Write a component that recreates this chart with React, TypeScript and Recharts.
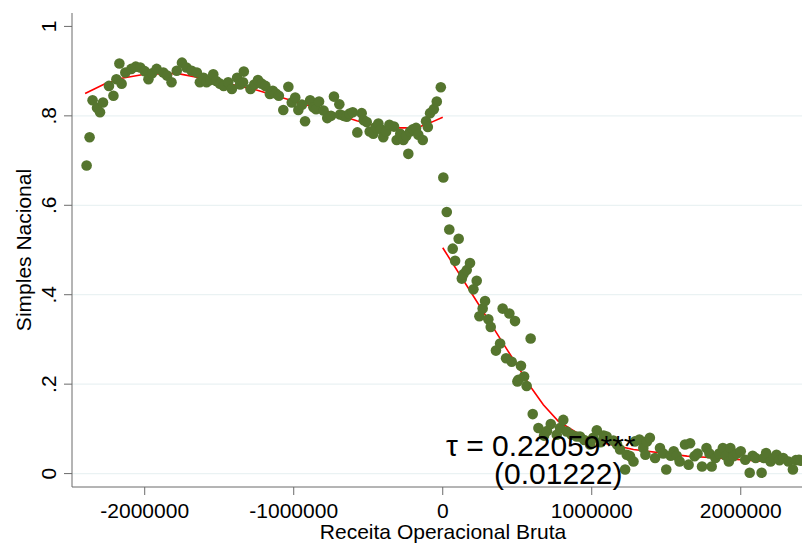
import { ReferenceLine, Scatter, ScatterChart, XAxis, YAxis } from "recharts";

const DOT = "#55752E";
const FIT = "#FF0000";
const AXIS = "#6b6b6b";
const FONT = "'Liberation Sans', Arial, sans-serif";

// binned means, left of the cutoff
const leftX = [
  -2390000, -2370000, -2350000, -2320000, -2300000, -2280000, -2240000, -2210000,
  -2190000, -2170000, -2155000, -2130000, -2090000, -2060000, -2030000, -2000000,
  -1975000, -1950000, -1920000, -1875000, -1850000, -1820000, -1785000, -1750000,
  -1720000, -1685000, -1650000, -1630000, -1605000, -1585000, -1560000, -1540000,
  -1520000, -1495000, -1470000, -1440000, -1415000, -1380000, -1360000, -1340000,
  -1335000, -1290000, -1265000, -1240000, -1215000, -1190000, -1160000, -1140000,
  -1120000, -1100000, -1070000, -1036000, -1013000, -990000, -969000, -945000,
  -924000, -890000, -868000, -850000, -830000, -800000, -775000, -750000,
  -730000, -694000, -689000, -665000, -644000, -625000, -604000, -573000,
  -544000, -530000, -510000, -490000, -466000, -450000, -432000, -415000,
  -399000, -380000, -358000, -327000, -309000, -285000, -264000, -245000,
  -231000, -219000, -200000, -179000, -164000, -134000, -112000, -100000,
  -85000, -60000, -40000, -13000,
];
const leftY = [
  0.689, 0.752, 0.835, 0.818, 0.808, 0.83, 0.867, 0.845,
  0.882, 0.917, 0.872, 0.897, 0.905, 0.91, 0.908, 0.9,
  0.882, 0.895, 0.905, 0.897, 0.89, 0.875, 0.901, 0.919,
  0.908, 0.901, 0.897, 0.875, 0.885, 0.875, 0.88, 0.893,
  0.878, 0.872, 0.867, 0.875, 0.86, 0.885, 0.87, 0.875,
  0.899, 0.86, 0.87, 0.88, 0.872, 0.867, 0.849, 0.856,
  0.85, 0.845, 0.813, 0.865, 0.83, 0.841, 0.813, 0.825,
  0.788, 0.835, 0.819, 0.815, 0.832, 0.812, 0.795, 0.8,
  0.843, 0.826, 0.803, 0.8, 0.798, 0.805, 0.808, 0.763,
  0.806, 0.79, 0.786, 0.765, 0.76, 0.775, 0.783, 0.77,
  0.752, 0.765, 0.78, 0.776, 0.746, 0.76, 0.746, 0.755,
  0.715, 0.765, 0.77, 0.773, 0.758, 0.746, 0.788, 0.775,
  0.806, 0.815, 0.832, 0.864,
];

// binned means, right of the cutoff
const rightX = [
  4000, 27000, 44000, 67000, 83000, 107000, 128000, 139000,
  161000, 183000, 206000, 228000, 246000, 268000, 284000, 306000,
  322000, 357000, 385000, 402000, 425000, 447000, 463000, 485000,
  501000, 508000, 525000, 546000, 563000, 590000, 604000, 642000,
  680000, 700000, 725000, 765000, 787000, 809000, 832000, 865000,
  899000, 921000, 950000, 989000, 1010000, 1034000, 1060000, 1080000,
  1100000, 1145000, 1170000, 1190000, 1224000, 1235000, 1257000, 1280000,
  1290000, 1320000, 1346000, 1360000, 1370000, 1390000, 1425000, 1458000,
  1480000, 1500000, 1530000, 1550000, 1570000, 1590000, 1626000, 1650000,
  1660000, 1690000, 1710000, 1740000, 1770000, 1790000, 1805000, 1830000,
  1855000, 1880000, 1900000, 1920000, 1930000, 1950000, 1975000, 2000000,
  2030000, 2060000, 2080000, 2100000, 2140000, 2155000, 2170000, 2200000,
  2220000, 2240000, 2260000, 2285000, 2320000, 2350000, 2370000, 2390000,
  2400000,
];
const rightY = [
  0.662, 0.585, 0.546, 0.503, 0.476, 0.525, 0.436, 0.446,
  0.455, 0.471, 0.412, 0.431, 0.352, 0.369, 0.386, 0.345,
  0.328, 0.275, 0.291, 0.369, 0.258, 0.358, 0.25, 0.341,
  0.206, 0.21, 0.241, 0.217, 0.196, 0.302, 0.133, 0.102,
  0.085, 0.095, 0.111, 0.087, 0.102, 0.12, 0.094, 0.087,
  0.083, 0.083, 0.075, 0.065, 0.08, 0.097, 0.07, 0.085,
  0.083, 0.074, 0.065, 0.054, 0.009, 0.042, 0.039, 0.027,
  0.072, 0.076, 0.057, 0.042, 0.072, 0.08, 0.035, 0.057,
  0.045, 0.009, 0.04, 0.05, 0.04, 0.027, 0.065, 0.02,
  0.068, 0.039, 0.045, 0.016, 0.057, 0.045, 0.016, 0.035,
  0.045, 0.057, 0.04, 0.027, 0.057, 0.039, 0.045, 0.05,
  0.031, 0.002, 0.04, 0.035, 0.002, 0.035, 0.046, 0.027,
  0.035, 0.042, 0.03, 0.035, 0.027, 0.009, 0.03, 0.031,
  0.029,
];

// fitted polynomials
const fitLeftX = [
  -2400000, -2270000, -2155000, -2000000, -1785000, -1517000, -1250000, -969000,
  -756000, -577000, -399000, -242000, -150000, -74000, 0,
];
const fitLeftY = [
  0.85, 0.871, 0.884, 0.893, 0.895, 0.878, 0.858, 0.83,
  0.808, 0.789, 0.773, 0.773, 0.776, 0.786, 0.797,
];
const fitRightX = [
  0, 200000, 400000, 600000, 675000, 776000, 921000, 1030000,
  1280000, 1640000, 1790000, 2170000, 2400000,
];
const fitRightY = [
  0.505, 0.4, 0.294, 0.189, 0.154, 0.117, 0.087, 0.072,
  0.054, 0.039, 0.036, 0.027, 0.028,
];

const xTicks = [-2000000, -1000000, 0, 1000000, 2000000];
const yTicks = [0, 0.2, 0.4, 0.6, 0.8, 1];
const gridValues = [0, 0.2, 0.4, 0.6, 0.8];

const zip = (xs: number[], ys: number[]) => xs.map((x, i) => ({ x, y: ys[i] }));

const leftPts = zip(leftX, leftY);
const rightPts = zip(rightX, rightY);
const fitLeft = zip(fitLeftX, fitLeftY);
const fitRight = zip(fitRightX, fitRightY);

const fmtY = (v: number) => (v === 0 || v === 1 ? String(v) : String(v).replace("0.", "."));

function YTick(props: any) {
  const { x, y, payload } = props;
  return (
    <text
      x={x}
      y={y}
      transform={`rotate(-90 ${x} ${y})`}
      textAnchor="middle"
      fontSize={21}
      fontFamily={FONT}
      fill="#000"
    >
      {fmtY(payload.value)}
    </text>
  );
}

const Dot = (p: any) => <circle cx={p.cx} cy={p.cy} r={5.3} fill={DOT} />;
const NoDot = () => <g />;

export default function App() {
  return (
    <div
      style={{
        position: "absolute",
        left: 0,
        top: 0,
        width: 802,
        height: 543,
        background: "#fff",
        fontFamily: FONT,
      }}
    >
      <ScatterChart
        width={802}
        height={543}
        margin={{ top: 13, right: 0, bottom: 0, left: 0 }}
      >
        <XAxis
          type="number"
          dataKey="x"
          domain={[-2488000, 2411000]}
          allowDataOverflow
          ticks={xTicks}
          interval={0}
          height={56}
          tickSize={8}
          tickMargin={8}
          tick={{ fontSize: 21, fill: "#000", fontFamily: FONT }}
          tickLine={{ stroke: AXIS }}
          axisLine={{ stroke: AXIS }}
          tickFormatter={(v: number) => String(v)}
        />
        <YAxis
          type="number"
          dataKey="y"
          domain={[-0.03, 1.03]}
          allowDataOverflow
          ticks={yTicks}
          interval={0}
          width={72}
          tickSize={8}
          tickMargin={8}
          tick={<YTick />}
          tickLine={{ stroke: AXIS }}
          axisLine={{ stroke: AXIS }}
        />
        {gridValues.map((v) => (
          <ReferenceLine key={v} y={v} stroke="#EAF2F3" strokeWidth={1.2} />
        ))}
        <Scatter
          data={fitLeft}
          line={{ stroke: FIT, strokeWidth: 1.6 }}
          shape={NoDot}
          isAnimationActive={false}
        />
        <Scatter
          data={fitRight}
          line={{ stroke: FIT, strokeWidth: 1.6 }}
          shape={NoDot}
          isAnimationActive={false}
        />
        <Scatter data={leftPts} fill={DOT} shape={Dot} isAnimationActive={false} />
        <Scatter data={rightPts} fill={DOT} shape={Dot} isAnimationActive={false} />
      </ScatterChart>
      <svg
        width={802}
        height={543}
        style={{ position: "absolute", left: 0, top: 0, pointerEvents: "none" }}
        fontFamily={FONT}
      >
        <text
          x={31}
          y={250}
          transform="rotate(-90 31 250)"
          textAnchor="middle"
          fontSize={21}
          fill="#000"
        >
          Simples Nacional
        </text>
        <text x={443} y={539} textAnchor="middle" fontSize={21} fill="#000">
          Receita Operacional Bruta
        </text>
        <text x={446} y={456} fontSize={30} fill="#000">
          τ = 0.22059***
        </text>
        <text x={494} y={484} fontSize={30} fill="#000">
          (0.01222)
        </text>
      </svg>
    </div>
  );
}
